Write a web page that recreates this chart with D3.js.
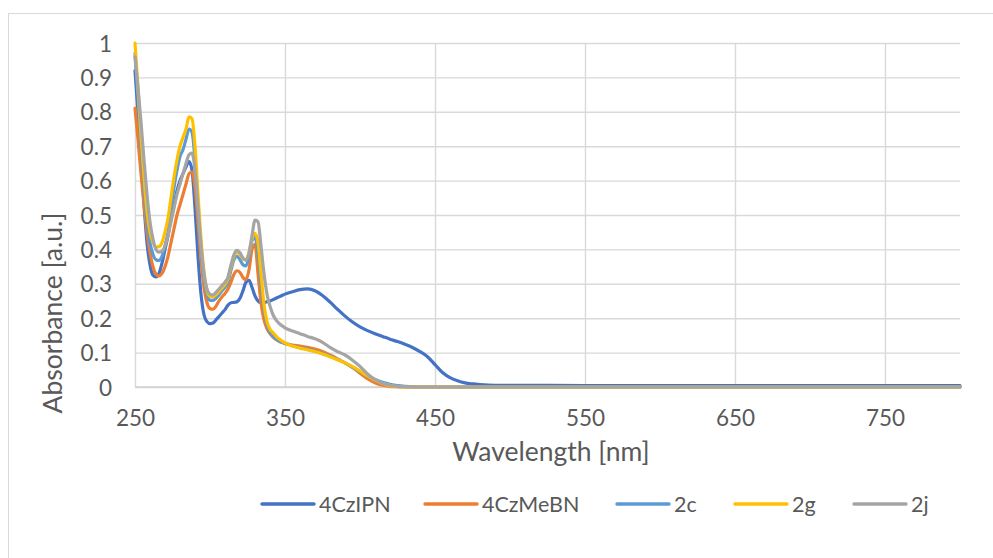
<!DOCTYPE html>
<html>
<head>
<meta charset="utf-8">
<script src="https://cdn.jsdelivr.net/npm/d3@7"></script>
<style>
  html, body { margin: 0; padding: 0; background: #ffffff; }
  svg { display: block; }
  text { font-family: Lato, "Open Sans", sans-serif; fill: #595959; }
</style>
</head>
<body>
<svg id="chart" width="993" height="558"></svg>
<script>
// ---------- DATA ----------
const wavelengths = [
  250,252,254,256,258,260,262,264,266,268,270,272,274,276,278,280,282,284,286,288,
  290,292,294,296,298,300,302,304,306,308,310,312,314,316,318,320,322,324,326,328,
  330,332,334,336,338,340,342,344,346,348,350,
  355,360,365,370,375,380,385,390,395,400,405,410,415,420,425,430,435,440,445,450,
  455,460,465,470,475,480,490,500,550,600,650,700,750,800
];

const seriesNames = ["4CzIPN", "4CzMeBN", "2c", "2g", "2j"];

const abs4CzIPN = [
  0.92,0.80,0.66,0.53,0.42,0.355,0.325,0.32,0.33,0.36,0.40,0.44,0.49,0.53,0.57,0.60,0.62,0.64,0.655,0.63,
  0.52,0.38,0.27,0.21,0.19,0.184,0.186,0.195,0.205,0.215,0.225,0.238,0.245,0.246,0.248,0.258,0.28,0.305,0.31,0.29,
  0.265,0.25,0.245,0.245,0.248,0.25,0.254,0.258,0.262,0.266,0.27,
  0.277,0.283,0.285,0.28,0.266,0.247,0.226,0.206,0.189,0.175,0.164,0.155,0.147,0.139,0.132,0.124,0.115,0.103,0.088,0.065,
  0.042,0.027,0.018,0.012,0.009,0.007,0.005,0.005,0.004,0.004,0.004,0.004,0.004,0.004
];

const abs4CzMeBN = [
  0.81,0.72,0.62,0.53,0.45,0.39,0.35,0.328,0.323,0.33,0.35,0.38,0.42,0.46,0.50,0.53,0.56,0.59,0.62,0.625,
  0.58,0.48,0.37,0.29,0.245,0.228,0.226,0.235,0.25,0.262,0.272,0.285,0.305,0.328,0.338,0.333,0.318,0.312,0.34,0.40,
  0.415,0.33,0.245,0.195,0.17,0.155,0.145,0.138,0.133,0.129,0.126,
  0.122,0.119,0.115,0.11,0.103,0.093,0.082,0.07,0.057,0.04,0.024,0.012,0.005,0.002,0.001,0,0,0,0,0,
  0,0,0,0,0,0,0,0,0,0,0,0,0,0
];

const abs2c = [
  0.97,0.84,0.70,0.58,0.48,0.42,0.385,0.37,0.368,0.38,0.41,0.45,0.52,0.58,0.63,0.67,0.69,0.72,0.75,0.74,
  0.66,0.53,0.41,0.32,0.27,0.252,0.252,0.258,0.268,0.28,0.29,0.305,0.34,0.37,0.38,0.37,0.355,0.352,0.38,0.425,
  0.435,0.39,0.30,0.225,0.18,0.16,0.148,0.14,0.134,0.13,0.127,
  0.12,0.114,0.11,0.104,0.097,0.09,0.08,0.07,0.058,0.045,0.032,0.022,0.014,0.008,0.004,0.002,0.001,0,0,0,
  0,0,0,0,0,0,0,0,0,0,0,0,0,0
];

const abs2g = [
  1.0,0.87,0.73,0.61,0.51,0.45,0.42,0.407,0.408,0.42,0.45,0.49,0.55,0.61,0.66,0.70,0.725,0.75,0.785,0.78,
  0.70,0.56,0.43,0.335,0.28,0.263,0.262,0.268,0.277,0.288,0.298,0.315,0.35,0.38,0.392,0.385,0.372,0.37,0.39,0.43,
  0.447,0.42,0.33,0.24,0.19,0.168,0.158,0.148,0.14,0.134,0.128,
  0.119,0.113,0.108,0.103,0.096,0.088,0.079,0.07,0.059,0.046,0.032,0.02,0.01,0.004,0.001,0,0,0,0,0,
  0,0,0,0,0,0,0,0,0,0,0,0,0,0
];

const abs2j = [
  0.96,0.87,0.77,0.66,0.56,0.48,0.43,0.40,0.392,0.395,0.41,0.44,0.48,0.52,0.56,0.59,0.62,0.65,0.675,0.68,
  0.63,0.52,0.41,0.33,0.285,0.27,0.268,0.275,0.285,0.295,0.305,0.32,0.355,0.385,0.397,0.39,0.375,0.368,0.39,0.44,
  0.485,0.48,0.41,0.33,0.27,0.235,0.21,0.195,0.185,0.178,0.172,
  0.163,0.155,0.147,0.14,0.13,0.115,0.103,0.093,0.078,0.06,0.038,0.022,0.011,0.005,0.002,0.001,0,0,0,0,
  0,0,0,0,0,0,0,0,0,0,0,0,0,0
];

const seriesColors = ["#4472C4", "#ED7D31", "#5B9BD5", "#FFC000", "#A5A5A5"];

const xTickValues = [250, 350, 450, 550, 650, 750];
const yTickValues = [0, 0.1, 0.2, 0.3, 0.4, 0.5, 0.6, 0.7, 0.8, 0.9, 1];
const xTitle = "Wavelength [nm]";
const yTitle = "Absorbance [a.u.]";

// ---------- LAYOUT ----------
const W = 993, H = 558;
const plot = { left: 135, right: 960, top: 43, bottom: 387 };
const legendStarts = [262, 425, 617, 735, 854];
const legendY = 504;
const tickFont = 22.5, titleFont = 26.5, legendFont = 21.5;

const svg = d3.select("#chart");
svg.append("rect").attr("x", 0).attr("y", 0).attr("width", W).attr("height", H).attr("fill", "#fff");
// chart-area border
svg.append("rect")
  .attr("x", 8.5).attr("y", 13.5).attr("width", 1200).attr("height", 800)
  .attr("fill", "none").attr("stroke", "#d9d9d9").attr("stroke-width", 1);

const x = d3.scaleLinear().domain([250, 800]).range([plot.left, plot.right]);
const y = d3.scaleLinear().domain([0, 1]).range([plot.bottom, plot.top]);

// horizontal gridlines
const yAxis = d3.axisLeft(y).tickValues(yTickValues).tickSize(-(plot.right - plot.left))
  .tickFormat(d => d3.format("~g")(d)).tickPadding(23);
const gy = svg.append("g").attr("transform", `translate(${plot.left},0)`).call(yAxis);
gy.select(".domain").remove();
gy.selectAll(".tick line").attr("stroke", "#d9d9d9").attr("stroke-width", 1.4);
gy.selectAll(".tick text").attr("font-size", tickFont).attr("fill", "#595959")
  .attr("font-family", "Lato, 'Open Sans', sans-serif").attr("dy", "0.36em");

// vertical gridlines
const xAxis = d3.axisBottom(x).tickValues(xTickValues).tickSize(-(plot.bottom - plot.top))
  .tickFormat(d3.format("d")).tickPadding(23);
const gx = svg.append("g").attr("transform", `translate(0,${plot.bottom})`).call(xAxis);
gx.select(".domain").remove();
gx.selectAll(".tick line").attr("stroke", "#d9d9d9").attr("stroke-width", 1.4);
gx.selectAll(".tick text").attr("font-size", tickFont).attr("fill", "#595959")
  .attr("font-family", "Lato, 'Open Sans', sans-serif");

// bottom axis line
svg.append("line")
  .attr("x1", plot.left).attr("x2", plot.right)
  .attr("y1", y(0)).attr("y2", y(0))
  .attr("stroke", "#d0d0d0").attr("stroke-width", 1.5);

// series
const allSeries = [abs4CzIPN, abs4CzMeBN, abs2c, abs2g, abs2j];
const line = d3.line()
  .x((d, i) => x(wavelengths[i]))
  .y(d => y(d))
  .curve(d3.curveMonotoneX);

const gLines = svg.append("g");
allSeries.forEach((vals, k) => {
  gLines.append("path")
    .datum(vals)
    .attr("d", line)
    .attr("fill", "none")
    .attr("stroke", seriesColors[k])
    .attr("stroke-width", 3.2)
    .attr("stroke-linejoin", "round")
    .attr("stroke-linecap", "round");
});

// axis titles
svg.append("text")
  .attr("x", 551).attr("y", 461)
  .attr("text-anchor", "middle").attr("font-size", titleFont)
  .text(xTitle);
svg.append("text")
  .attr("transform", "translate(62,313) rotate(-90)")
  .attr("text-anchor", "middle").attr("font-size", titleFont)
  .text(yTitle);

// legend
const legend = svg.append("g");
seriesNames.forEach((name, k) => {
  const lx = legendStarts[k];
  legend.append("line")
    .attr("x1", lx).attr("x2", lx + 52)
    .attr("y1", legendY).attr("y2", legendY)
    .attr("stroke", seriesColors[k]).attr("stroke-width", 3.4)
    .attr("stroke-linecap", "round");
  legend.append("text")
    .attr("x", lx + 57).attr("y", legendY).attr("dy", "0.36em")
    .attr("font-size", legendFont)
    .text(name);
});
</script>
</body>
</html>
